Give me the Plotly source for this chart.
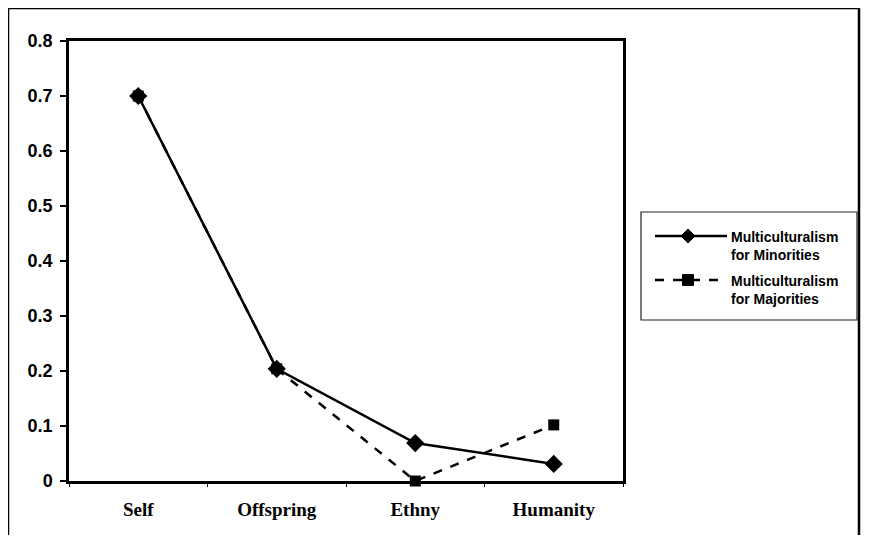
import plotly.graph_objects as go

categories = ["Self", "Offspring", "Ethny", "Humanity"]
minorities = [0.70, 0.204, 0.069, 0.031]
majorities = [0.70, 0.204, 0.0, 0.102]
y_ticks = [0, 0.1, 0.2, 0.3, 0.4, 0.5, 0.6, 0.7, 0.8]
y_tick_labels = ["0", "0.1", "0.2", "0.3", "0.4", "0.5", "0.6", "0.7", "0.8"]
legend_names = ["Multiculturalism<br>for Minorities", "Multiculturalism<br>for Majorities"]

OFF = 8  # page body margin
W, H = 869 - OFF, 543 - 2 * OFF
L, T = 69 - OFF, 41 - OFF
R = W - (623 - OFF)
B = H - (481 - OFF)
pw, ph = W - L - R, H - T - B

def px_x(p):
    return (p - OFF - L) / pw

def px_y(p):
    return (H - B - (p - OFF)) / ph

fig = go.Figure()
fig.add_trace(go.Scatter(
    x=categories, y=minorities, mode="lines+markers",
    name=legend_names[0],
    line=dict(color="black", width=2.5),
    marker=dict(symbol="diamond", size=14, color="black"),
    cliponaxis=False, showlegend=False,
))
fig.add_trace(go.Scatter(
    x=categories, y=majorities, mode="lines+markers",
    name=legend_names[1],
    line=dict(color="black", width=2.5, dash="dash"),
    marker=dict(symbol="square", size=11, color="black"),
    cliponaxis=False, showlegend=False,
))

shapes = []
# outer frame
shapes.append(dict(type="rect", xref="paper", yref="paper",
                   x0=px_x(8), x1=px_x(859), y0=px_y(570), y1=px_y(8),
                   line=dict(color="black", width=2.5), layer="below"))
# legend box
lg_l, lg_r, lg_t, lg_b = 641, 857, 212, 320
shapes.append(dict(type="rect", xref="paper", yref="paper",
                   x0=px_x(lg_l), x1=px_x(lg_r), y0=px_y(lg_b), y1=px_y(lg_t),
                   line=dict(color="#222", width=1.2), fillcolor="white"))
annotations = []
entries = [(236, "solid", "diamond"), (280, "dash", "square")]
for (yc, dash, sym), name in zip(entries, legend_names):
    shapes.append(dict(type="line", xref="paper", yref="paper",
                       x0=px_x(655), x1=px_x(727), y0=px_y(yc), y1=px_y(yc),
                       line=dict(color="black", width=2.5, dash=dash)))
    mx = 688
    if sym == "diamond":
        d = 7
        path = (f"M {px_x(mx-d)} {px_y(yc)} L {px_x(mx)} {px_y(yc-d)} "
                f"L {px_x(mx+d)} {px_y(yc)} L {px_x(mx)} {px_y(yc+d)} Z")
        shapes.append(dict(type="path", xref="paper", yref="paper", path=path,
                           fillcolor="black", line=dict(color="black", width=1)))
    else:
        d = 5.5
        shapes.append(dict(type="rect", xref="paper", yref="paper",
                           x0=px_x(mx-d), x1=px_x(mx+d), y0=px_y(yc+d), y1=px_y(yc-d),
                           fillcolor="black", line=dict(color="black", width=1)))
    annotations.append(dict(xref="paper", yref="paper", x=px_x(729), y=px_y(yc - 9),
                            xanchor="left", yanchor="top", align="left",
                            text=name, showarrow=False,
                            font=dict(family="Liberation Sans", size=14, color="black", weight="bold")))

fig.update_layout(
    width=W, height=H,
    margin=dict(l=L, r=R, t=T, b=B, autoexpand=False),
    paper_bgcolor="white", plot_bgcolor="white",
    showlegend=False,
    shapes=shapes, annotations=annotations,
    xaxis=dict(
        type="category", range=[-0.5, 3.5],
        showline=True, linecolor="black", linewidth=2.5, mirror=True,
        ticks="outside", ticklen=3, tickcolor="black", tickson="boundaries",
        showgrid=False, zeroline=False, ticklabelstandoff=9,
        tickfont=dict(family="Liberation Serif", size=19, color="black", weight="bold"),
    ),
    yaxis=dict(
        range=[0, 0.8], tickvals=y_ticks, ticktext=y_tick_labels,
        showline=True, linecolor="black", linewidth=2.5, mirror=True,
        ticks="outside", ticklen=6, tickcolor="black", tickwidth=2,
        showgrid=False, zeroline=False, ticklabelstandoff=4,
        tickfont=dict(family="Liberation Sans", size=18, color="black", weight="bold"),
    ),
)

fig.write_html("out.html")
